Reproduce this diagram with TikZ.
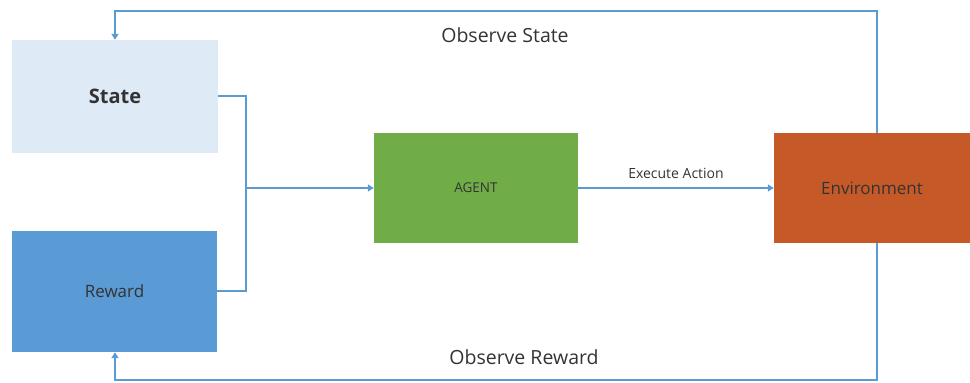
\documentclass[tikz,border=0pt]{standalone}
\usepackage{fontspec}
\setmainfont{Open Sans}
\usetikzlibrary{arrows.meta}
\definecolor{linkblue}{HTML}{5B9BD5}
\definecolor{statefill}{HTML}{DEEAF6}
\definecolor{rewardfill}{HTML}{5B9BD5}
\definecolor{agentfill}{HTML}{70AD47}
\definecolor{envfill}{HTML}{C55A28}
\definecolor{txt}{HTML}{333333}
\begin{document}
\begin{tikzpicture}[x=1pt,y=-1pt,
  block/.style={draw=none,inner sep=0pt,text=txt},
  link/.style={draw=linkblue,line width=1.4pt,-{Triangle[length=6pt,width=7pt]}},
  plain/.style={draw=linkblue,line width=1.4pt},
  lbl/.style={text=txt,inner sep=0pt}]
\useasboundingbox (0,0) rectangle (970,383);
% boxes
\node[block,fill=statefill,minimum width=206pt,minimum height=113pt,font=\fontsize{20}{22}\selectfont\bfseries] (state) at (115,96.5) {State};
\node[block,fill=rewardfill,minimum width=205pt,minimum height=121pt,font=\fontsize{17}{19}\selectfont] (reward) at (114.5,291.5) {Reward};
\node[block,fill=agentfill,minimum width=204pt,minimum height=110pt,font=\fontsize{13.5}{15}\selectfont] (agent) at (476,188) {AGENT};
\node[block,fill=envfill,minimum width=196pt,minimum height=110pt,font=\fontsize{17}{19}\selectfont] (env) at (872,188) {Environment};
% junction and corners
\coordinate (join) at (246,188);
\coordinate (tl) at (115,11);
\coordinate (tr) at (877,11);
\coordinate (bl) at (115,380);
\coordinate (br) at (877,380);
% state and reward feed the agent
\draw[plain] (state.east |- 0,96) -| (join);
\draw[plain] (reward.east |- 0,291) -| (join);
\draw[link] (join) -- (agent.west);
% action to the environment
\draw[link] (agent.east) -- node[lbl,above=9pt,font=\fontsize{14}{16}\selectfont]{Execute Action} (env.west);
% feedback loops
\draw[link] (env.north -| tr) -- (tr) -- (tl) -- (state.north -| tl);
\draw[link] (env.south -| br) -- (br) -- (bl) -- (reward.south -| bl);
% loop labels
\node[lbl,font=\fontsize{19.5}{22}\selectfont] (obsstate) at (505,35) {Observe State};
\node[lbl,font=\fontsize{19.5}{22}\selectfont] (obsreward) at (524,357) {Observe Reward};
\end{tikzpicture}
\end{document}
